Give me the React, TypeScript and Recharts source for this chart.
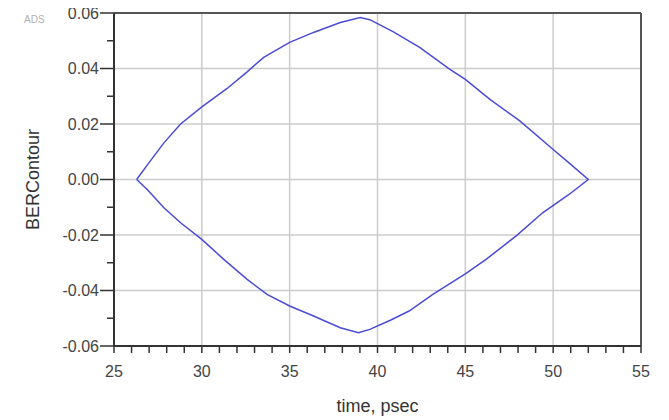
import React from "react"
import { LineChart, Line, XAxis, YAxis, ReferenceLine } from "recharts"

// upper half of the eye contour, left to right
const upperT = [26.29, 26.89, 27.84, 28.79, 30.0, 31.44, 32.58, 33.52, 35.0, 36.36, 37.88, 39.02, 39.56, 40.88, 42.4, 44.1, 45.0, 46.4, 48.1, 50.0, 50.9, 52.0]
const upperV = [0, 0.0052, 0.0132, 0.02, 0.0262, 0.0328, 0.0388, 0.044, 0.0494, 0.053, 0.0566, 0.0584, 0.0576, 0.0533, 0.0476, 0.0398, 0.0361, 0.0289, 0.0211, 0.0108, 0.006, 0]

// lower half, right to left
const lowerT = [52.0, 50.9, 49.4, 47.88, 46.18, 45.0, 43.15, 41.8, 40.7, 39.56, 38.92, 37.88, 36.36, 35.0, 33.71, 32.58, 31.25, 30.0, 28.79, 27.84, 26.89, 26.29]
const lowerV = [0, -0.0054, -0.012, -0.0204, -0.0288, -0.034, -0.0414, -0.0474, -0.0508, -0.054, -0.0552, -0.0534, -0.0492, -0.0456, -0.0414, -0.036, -0.0288, -0.0216, -0.0156, -0.0102, -0.0036, 0]

const xTicks = [25, 26, 27, 28, 29, 30, 31, 32, 33, 34, 35, 36, 37, 38, 39, 40, 41, 42, 43, 44, 45, 46, 47, 48, 49, 50, 51, 52, 53, 54, 55]
const xMajor = [25, 30, 35, 40, 45, 50, 55]
const yTicks = [-0.06, -0.05, -0.04, -0.03, -0.02, -0.01, 0, 0.01, 0.02, 0.03, 0.04, 0.05, 0.06]
const yMajor = [-0.06, -0.04, -0.02, 0, 0.02, 0.04, 0.06]

const data = [
  ...upperT.map((t, i) => ({ t, v: upperV[i] })),
  ...lowerT.map((t, i) => ({ t, v: lowerV[i] })),
]

const font = "'Liberation Sans', Arial, sans-serif"
const axisColor = "#333"
const textColor = "#444"

function XTick(props: any) {
  const { x, y, payload } = props
  const major = xMajor.includes(payload.value)
  return (
    <g>
      <line x1={x} x2={x} y1={y} y2={y + 7} stroke={axisColor} strokeWidth={1.5} />
      {major && (
        <text x={x} y={y + 31} textAnchor="middle" fill={textColor} fontSize={16} fontFamily={font}>
          {payload.value}
        </text>
      )}
    </g>
  )
}

function YTick(props: any) {
  const { x, y, payload } = props
  const major = yMajor.includes(payload.value)
  return (
    <g>
      <line x1={x} x2={x - (major ? 14 : 7)} y1={y} y2={y} stroke={axisColor} strokeWidth={1.5} />
      {major && (
        <text x={x - 15} y={y} dy="0.35em" textAnchor="end" fill={textColor} fontSize={16} fontFamily={font}>
          {payload.value.toFixed(2)}
        </text>
      )}
    </g>
  )
}

export default function App() {
  return (
    <div style={{ position: "relative", width: 653, height: 416, marginTop: -4 }}>
      <span style={{ position: "absolute", left: 16, top: 10, fontSize: 10, color: "#b0b0b0", fontFamily: font }}>ADS</span>
      <LineChart width={653} height={416} data={data} margin={{ top: 9, right: 20, bottom: 0, left: 0 }}>
        {xMajor.slice(1, -1).map((v) => (
          <ReferenceLine key={"x" + v} x={v} stroke="#cccccc" strokeWidth={1.5} />
        ))}
        {yMajor.slice(1, -1).map((v) => (
          <ReferenceLine key={"y" + v} y={v} stroke="#cccccc" strokeWidth={1.5} />
        ))}
        <ReferenceLine y={0.06} stroke="#555" strokeWidth={2} />
        <ReferenceLine x={55} stroke="#555" strokeWidth={2} />
        <XAxis
          dataKey="t"
          type="number"
          domain={[25, 55]}
          ticks={xTicks}
          interval={0}
          tickSize={0}
          tickMargin={0}
          tick={<XTick />}
          height={74}
          stroke={axisColor}
          strokeWidth={2}
          allowDataOverflow
          label={{ value: "time, psec", position: "insideBottom", offset: 8, fill: "#333", fontSize: 18, fontFamily: font }}
        />
        <YAxis
          type="number"
          domain={[-0.06, 0.06]}
          ticks={yTicks}
          interval={0}
          tickSize={0}
          tickMargin={0}
          tick={<YTick />}
          width={106}
          stroke={axisColor}
          strokeWidth={2}
          allowDataOverflow
          label={{ value: "BERContour", angle: -90, position: "insideLeft", offset: 25, fill: "#333", fontSize: 18, fontFamily: font, style: { textAnchor: "middle" } }}
        />
        <Line dataKey="v" type="linear" stroke="#4b4bd8" strokeWidth={1.5} dot={false} isAnimationActive={false} />
      </LineChart>
    </div>
  )
}
